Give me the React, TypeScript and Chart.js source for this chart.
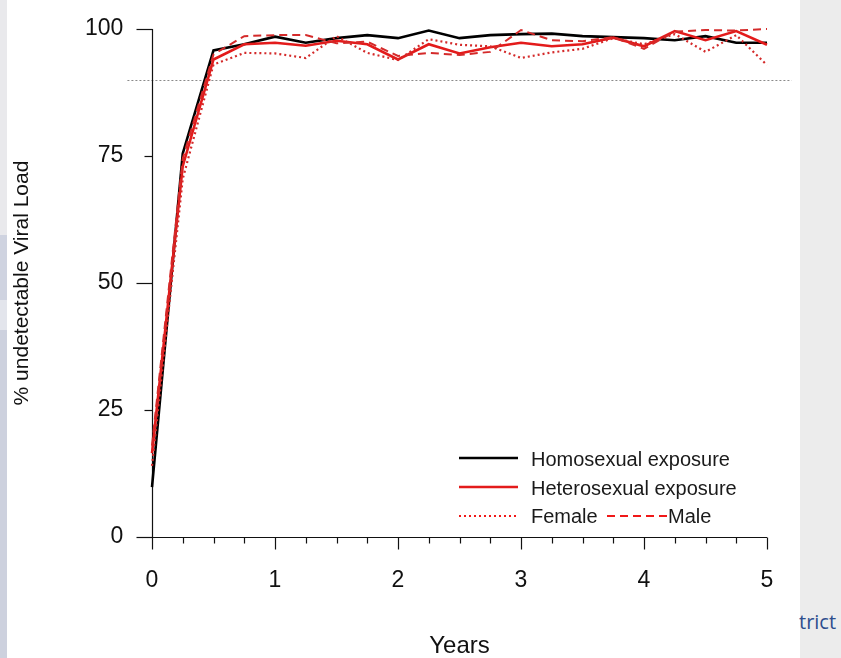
import React, { useEffect, useRef } from "react";
import { Chart, registerables } from "chart.js";

Chart.register(...registerables);

const FONT = "'Liberation Sans', Arial, Helvetica, sans-serif";

const years = [0, 0.25, 0.5, 0.75, 1, 1.25, 1.5, 1.75, 2, 2.25, 2.5, 2.75, 3, 3.25, 3.5, 3.75, 4, 4.25, 4.5, 4.75, 5];
const homosexual = [9.8, 75.5, 95.8, 97, 98.5, 97.3, 98.2, 98.8, 98.2, 99.7, 98.2, 98.8, 99, 99.1, 98.6, 98.4, 98.2, 97.8, 98.6, 97.3, 97.3];
const heterosexual = [16.5, 73, 94, 97, 97.3, 96.7, 97.7, 97, 94, 97, 95.2, 96.4, 97.3, 96.6, 97, 98.3, 96.6, 99.6, 97.8, 99.6, 96.9];
const female = [14, 70.5, 93, 95.3, 95.2, 94.3, 98.6, 95.3, 93.9, 98, 96.9, 96.6, 94.3, 95.4, 96.1, 98.2, 97, 99, 95.5, 98.8, 92.9];
const male = [18, 74.5, 95, 98.6, 98.8, 98.8, 97.2, 97.5, 94.7, 95.3, 94.9, 95.5, 99.8, 97.8, 97.6, 98.4, 96.1, 99.5, 99.8, 99.7, 100];

const xTickValues = [0, 1, 2, 3, 4, 5];
const yTickValues = [0, 25, 50, 75, 100];
const yMajorTicks = [0, 50, 100];
const targetLine = 90;

const toPoints = (vals: number[]) => vals.map((v, i) => ({ x: years[i], y: v }));

const axesPlugin = {
  id: "rAxes",
  beforeDatasetsDraw(chart: any) {
    const { ctx, chartArea } = chart;
    const xs = chart.scales.x;
    const ys = chart.scales.y;
    const line = (x1: number, y1: number, x2: number, y2: number) => {
      ctx.beginPath();
      ctx.moveTo(x1, y1);
      ctx.lineTo(x2, y2);
      ctx.stroke();
    };
    ctx.save();
    ctx.strokeStyle = "#8a8a8a";
    ctx.lineWidth = 1;
    ctx.setLineDash([2, 2]);
    const py90 = Math.round(ys.getPixelForValue(targetLine)) + 0.5;
    line(chartArea.left, py90, chartArea.right, py90);
    ctx.setLineDash([]);
    ctx.strokeStyle = "#111";
    ctx.lineWidth = 1.2;
    const x0 = Math.round(xs.getPixelForValue(0)) + 0.5;
    line(x0, ys.getPixelForValue(0), x0, ys.getPixelForValue(100));
    yTickValues.forEach((v) => {
      const py = Math.round(ys.getPixelForValue(v)) + 0.5;
      const len = yMajorTicks.includes(v) ? 16 : 8;
      line(x0 - len, py, x0, py);
    });
    const y0 = Math.round(ys.getPixelForValue(0)) + 0.5;
    line(xs.getPixelForValue(0), y0, xs.getPixelForValue(5), y0);
    years.forEach((v) => {
      const px = Math.round(xs.getPixelForValue(v)) + 0.5;
      const len = Number.isInteger(v) ? 12 : 6;
      line(px, y0, px, y0 + len);
    });
    ctx.restore();
  },
  afterDatasetsDraw(chart: any) {
    const { ctx } = chart;
    const ds = chart.data.datasets;
    const get = (label: string) => ds.find((d: any) => d.label === label);
    const drawSample = (d: any, x1: number, x2: number, y: number) => {
      ctx.beginPath();
      ctx.setLineDash(d.borderDash || []);
      ctx.strokeStyle = d.borderColor;
      ctx.lineWidth = d.borderWidth;
      ctx.moveTo(x1, y);
      ctx.lineTo(x2, y);
      ctx.stroke();
    };
    ctx.save();
    ctx.font = `20px ${FONT}`;
    ctx.textBaseline = "middle";
    ctx.textAlign = "left";
    ctx.fillStyle = "#1a1a1a";
    const homo = get("Homosexual exposure");
    const hetero = get("Heterosexual exposure");
    const fem = get("Female");
    const mal = get("Male");
    drawSample(homo, 459, 518, 458);
    ctx.fillText(homo.label, 531, 460);
    drawSample(hetero, 459, 518, 487);
    ctx.fillText(hetero.label, 531, 489);
    drawSample({ ...fem, borderColor: "#f01818" }, 459, 518, 516);
    ctx.fillText(fem.label, 531, 517);
    drawSample({ ...mal, borderDash: [8, 5], borderColor: "#f01818" }, 607, 667, 516);
    ctx.fillText(mal.label, 668, 517);
    ctx.restore();
  },
};

export default function App() {
  const ref = useRef<HTMLCanvasElement | null>(null);
  useEffect(() => {
    if (!ref.current) return;
    const chart = new Chart(ref.current, {
      type: "line",
      data: {
        datasets: [
          { label: "Male", data: toPoints(male), borderColor: "#d42a2a", borderWidth: 2, borderDash: [8, 5], pointRadius: 0, tension: 0, order: 1 },
          { label: "Female", data: toPoints(female), borderColor: "#d42a2a", borderWidth: 2.2, borderDash: [2, 3], pointRadius: 0, tension: 0, order: 2 },
          { label: "Heterosexual exposure", data: toPoints(heterosexual), borderColor: "#e31b1b", borderWidth: 2.6, pointRadius: 0, tension: 0, order: 3 },
          { label: "Homosexual exposure", data: toPoints(homosexual), borderColor: "#000000", borderWidth: 2.6, pointRadius: 0, tension: 0, order: 4 },
        ],
      },
      options: {
        animation: false,
        responsive: false,
        devicePixelRatio: 1,
        layout: { padding: { left: 0, top: 8.7, right: 49.4, bottom: 0 } },
        plugins: { legend: { display: false }, tooltip: { enabled: false } },
        scales: {
          x: {
            type: "linear",
            min: -0.2,
            max: 5.2,
            afterBuildTicks: (s: any) => {
              s.ticks = xTickValues.map((v) => ({ value: v }));
            },
            afterFit: (s: any) => {
              s.height = 100.7;
              s.paddingLeft = 0;
              s.paddingRight = 0;
            },
            grid: { display: false, drawTicks: false },
            border: { display: false },
            ticks: {
              autoSkip: false,
              maxRotation: 0,
              padding: 10,
              color: "#111",
              font: { family: FONT, size: 23 },
              callback: (v: any) => String(v),
            },
            title: {
              display: true,
              text: "Years",
              color: "#111",
              font: { family: FONT, size: 24, lineHeight: 1.0 },
              padding: { top: 0, bottom: 0 },
            },
          },
          y: {
            type: "linear",
            min: -4,
            max: 104,
            afterBuildTicks: (s: any) => {
              s.ticks = yTickValues.map((v) => ({ value: v }));
            },
            afterFit: (s: any) => {
              s.width = 127.4;
              s.paddingTop = 0;
              s.paddingBottom = 0;
            },
            grid: { display: false, drawTicks: false },
            border: { display: false },
            ticks: {
              autoSkip: false,
              padding: 4,
              color: "#111",
              font: { family: FONT, size: 23 },
              callback: (v: any) => String(v),
            },
            title: {
              display: true,
              text: "% undetectable Viral Load",
              color: "#111",
              font: { family: FONT, size: 21, lineHeight: 1.2 },
              padding: { top: 10, bottom: 10 },
            },
          },
        },
      },
      plugins: [axesPlugin],
    } as any);
    return () => chart.destroy();
  }, []);

  return (
    <div style={{ position: "fixed", left: 0, top: 0, width: 841, height: 658, background: "#fff", overflow: "hidden" }}>
      <div
        style={{
          position: "absolute",
          left: 0,
          top: 0,
          width: 7,
          height: 658,
          background:
            "linear-gradient(to bottom, #e9e9ec 0px, #e9e9ec 235px, #cfd3e0 235px, #cfd3e0 300px, #e3e5ec 300px, #e3e5ec 330px, #cdd1de 330px, #cdd1de 658px)",
        }}
      />
      <div style={{ position: "absolute", left: 800, top: 0, width: 41, height: 658, background: "#ececec" }} />
      <span
        style={{
          position: "absolute",
          left: 799,
          top: 611,
          fontFamily: "'Open Sans', sans-serif",
          fontSize: 20,
          lineHeight: "22px",
          color: "#2e4e8e",
        }}
      >
        trict
      </span>
      <canvas ref={ref} width={841} height={658} style={{ position: "absolute", left: 0, top: 0, width: 841, height: 658 }} />
    </div>
  );
}
